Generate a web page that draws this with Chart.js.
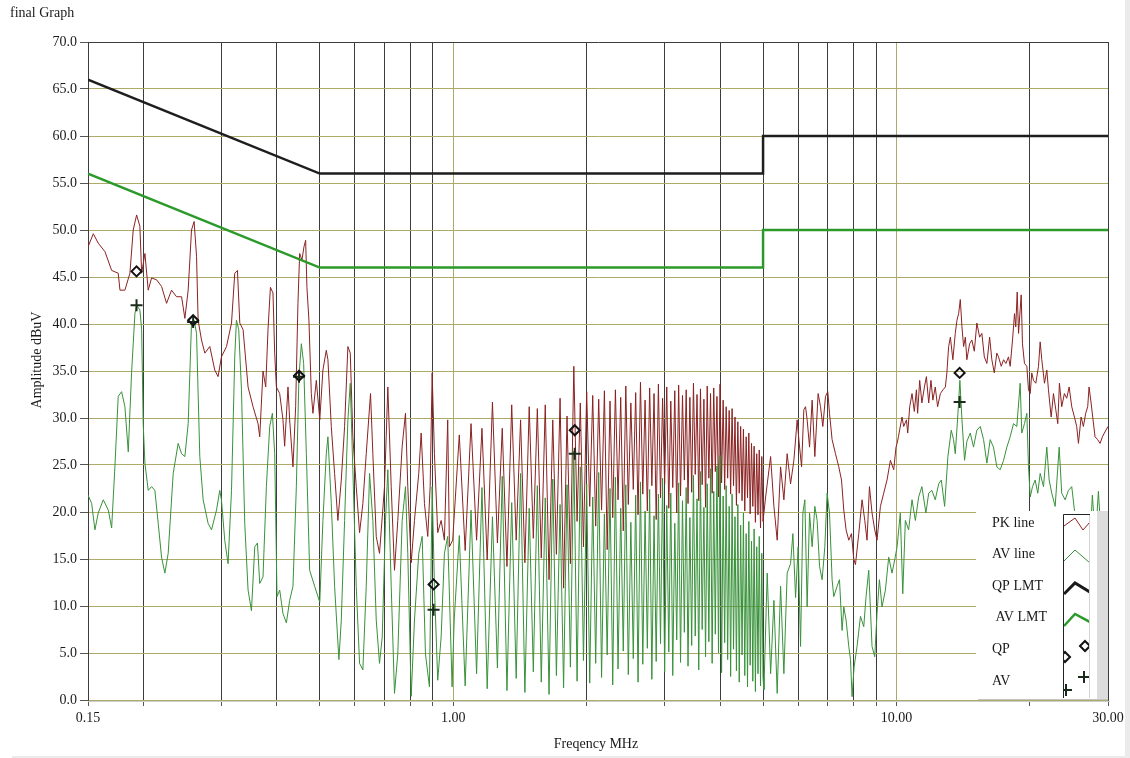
<!DOCTYPE html>
<html>
<head>
<meta charset="utf-8">
<title>final Graph</title>
<script src="https://cdn.jsdelivr.net/npm/chart.js@4.4.1/dist/chart.umd.min.js"></script>
<style>
  html, body { margin: 0; padding: 0; background: #fff; }
  canvas { display: block; }
</style>
</head>
<body>
<canvas id="emiChart" width="1130" height="758"></canvas>
<script>
// ---- data (MHz / dBuV) ----

// 0.15 - 1 MHz
const pkFreqLow = [
  0.150,0.1542,0.1582,0.1638,0.1696,0.1755,0.1771,0.1817,0.1865,0.1897,
  0.1931,0.1964,0.1982,0.2016,0.2051,0.2087,0.2142,0.2198,0.2256,0.2315,
  0.2376,0.2439,0.2481,0.2524,0.2568,0.2603,0.2636,0.2658,0.2705,0.2752,
  0.2824,0.2898,0.2948,0.3000,0.3080,0.3161,0.3215,0.3260,0.3300,0.3357,
  0.3445,0.3535,0.3628,0.3660,0.3723,0.3776,0.3821,0.3869,0.3921,0.3956,
  0.3991,0.4060,0.4130,0.4166,0.4239,0.4276,0.4350,0.4411,0.4464,0.4504,
  0.4558,0.4605,0.4646,0.4677,0.4726,0.4785,0.4825,0.4911,0.5000,0.5082,
  0.5172,0.5216,0.5308,0.5400,0.5493,0.5591,0.5688,0.5786,0.5858,0.5937,
  0.6043,0.6148,0.6254,0.6365,0.6508,0.6587,0.6704,0.6819,0.6998,0.7060,
  0.7120,0.7246,0.7371,0.7498,0.7671,0.7804,0.7898,0.8038,0.8177,0.8361,
  0.8466,0.8612,0.8761,0.8871,0.8963,0.9070,0.9227,0.9391,0.9553,0.9718,
  0.9804,0.9973
];
const pkLow = [
  48.2,49.6,48.6,47.7,45.7,45.4,43.6,43.6,45.4,50.0,
  51.6,50.4,45.4,47.5,43.6,44.9,44.7,44.0,42.2,43.6,
  42.9,42.9,40.6,43.6,50.0,50.9,47.2,40.4,38.3,36.9,
  37.6,35.1,34.4,36.5,37.6,40.1,45.4,45.7,40.1,39.4,
  33.3,31.2,29.4,28.0,35.0,33.3,39.4,43.9,43.3,36.9,
  33.3,32.6,29.8,27.0,33.3,29.8,24.8,31.2,42.2,47.5,
  46.8,48.2,48.9,43.9,40.4,32.6,30.5,34.0,29.8,35.1,
  37.2,36.2,29.1,24.1,19.1,23.4,29.1,37.6,36.9,28.0,
  22.7,17.8,20.9,26.2,32.6,26.2,17.4,15.6,22.7,28.0,
  33.3,22.7,13.8,19.1,27.0,30.5,22.7,14.6,19.1,24.1,
  28.4,20.9,17.4,22.7,34.8,26.2,17.8,19.1,17.0,29.8,
  16.3,17.0
];
const avFreqLow = [
  0.150,0.1529,0.1555,0.1582,0.1624,0.1667,0.1696,0.1725,0.1755,0.1786,
  0.1817,0.1849,0.1881,0.1914,0.1931,0.1964,0.1982,0.1998,0.2016,0.2051,
  0.2087,0.2123,0.2160,0.2198,0.2236,0.2275,0.2335,0.2396,0.2439,0.2481,
  0.2524,0.2568,0.2603,0.2636,0.2681,0.2728,0.2799,0.2849,0.2924,0.2974,
  0.3000,0.3052,0.3105,0.3161,0.3215,0.3243,0.3282,0.3329,0.3386,0.3445,
  0.3506,0.3567,0.3617,0.3660,0.3723,0.3789,0.3855,0.3909,0.3956,0.4004,
  0.4060,0.4130,0.4204,0.4276,0.4350,0.4427,0.4487,0.4544,0.4598,0.4663,
  0.4744,0.4868,0.5000,0.5082,0.5172,0.5216,0.5308,0.5400,0.5522,0.5591,
  0.5688,0.5786,0.5858,0.5937,0.6043,0.6148,0.6254,0.6365,0.6475,0.6587,
  0.6704,0.6819,0.6916,0.7035,0.7120,0.7246,0.7371,0.7498,0.7671,0.7804,
  0.7898,0.8038,0.8177,0.8361,0.8510,0.8657,0.8838,0.8963,0.9070,0.9227,
  0.9391,0.9553,0.9718,0.9942,1.005
];
const avLow = [
  21.8,20.9,18.1,19.9,21.3,20.2,18.3,24.8,32.3,32.8,
  31.2,26.4,34.8,41.1,42.0,41.5,39.4,29.4,25.2,22.3,
  22.7,22.3,18.8,15.2,13.5,15.6,24.1,27.3,26.2,25.9,
  29.4,40.1,40.4,39.0,25.9,21.3,18.8,18.1,20.2,22.3,
  21.3,17.0,14.5,22.3,36.5,40.4,39.4,33.0,18.8,11.7,
  9.5,16.3,16.7,12.4,13.1,22.7,29.1,30.5,26.2,11.0,
  11.7,9.2,8.2,10.6,12.1,22.7,34.4,37.9,35.8,26.2,
  13.8,12.1,10.4,19.1,26.2,28.0,20.9,12.1,4.3,8.5,
  19.1,29.8,33.7,24.5,12.1,3.9,3.2,12.1,24.1,19.1,
  8.5,3.9,6.7,19.1,24.5,12.1,0.7,4.9,19.1,22.7,
  15.6,0.4,8.5,15.6,17.4,4.9,1.4,22.7,12.1,2.1,
  6.7,15.6,17.4,1.4,8.5
];

// 1 - 5 MHz: peak / dip of every switching harmonic
const harmFreq = [
  1.032,1.064,1.097,1.129,1.161,1.193,1.226,1.258,1.290,1.322,
  1.355,1.387,1.419,1.451,1.484,1.516,1.548,1.580,1.613,1.645,
  1.677,1.709,1.742,1.774,1.806,1.838,1.871,1.903,1.935,1.967,
  2.000,2.032,2.064,2.096,2.129,2.161,2.193,2.225,2.258,2.290,
  2.322,2.354,2.387,2.419,2.451,2.483,2.516,2.548,2.580,2.612,
  2.645,2.677,2.709,2.741,2.774,2.806,2.838,2.870,2.903,2.935,
  2.967,2.999,3.032,3.064,3.096,3.128,3.161,3.193,3.225,3.257,
  3.290,3.322,3.354,3.386,3.419,3.451,3.483,3.515,3.548,3.580,
  3.612,3.644,3.677,3.709,3.741,3.773,3.806,3.838,3.870,3.902,
  3.935,3.967,3.999,4.031,4.064,4.096,4.128,4.160,4.193,4.225,
  4.257,4.289,4.322,4.354,4.386,4.418,4.451,4.483,4.515,4.547,
  4.580,4.612,4.644,4.676,4.709,4.741,4.773,4.805,4.838,4.870,
  4.902,4.934,4.967,4.999
];
const pkHarm = [
  28.2,15.9,29.4,17.0,28.9,14.9,31.7,16.7,28.9,14.2,
  31.4,17.0,29.8,14.6,31.2,17.2,31.0,15.1,31.4,12.8,
  29.8,15.5,32.1,11.9,30.2,14.5,35.5,19.0,31.6,16.3,
  32.8,20.6,32.4,18.5,32.0,20.2,32.9,16.0,31.8,19.4,
  33.0,21.3,32.2,18.0,33.4,20.8,31.6,22.4,32.7,19.7,
  33.8,21.9,31.9,20.1,33.2,22.8,32.6,19.2,33.6,21.5,
  32.1,23.0,33.3,20.4,31.8,22.6,32.9,19.9,33.5,21.7,
  32.4,23.4,33.0,20.9,32.2,22.1,33.7,24.0,32.5,21.2,
  33.1,22.9,32.0,20.5,33.4,23.6,32.6,22.0,33.2,24.3,
  32.3,21.6,33.6,23.1,31.9,22.4,31.2,23.6,30.8,21.9,
  31.0,22.8,30.1,20.7,29.6,22.0,29.1,21.2,28.8,20.1,
  28.0,21.5,28.4,19.8,27.3,20.6,27.0,18.9,26.2,19.7,
  26.6,18.3,25.9,19.0
];
const avHarm = [
  17.5,1.5,20.2,2.8,22.6,1.2,19.5,3.4,23.8,1.0,
  21.0,2.3,24.1,0.8,20.4,3.0,22.8,1.9,21.5,0.6,
  23.5,2.6,20.8,1.3,22.9,3.5,26.5,2.0,24.8,4.2,
  23.0,1.8,21.6,3.9,24.2,2.4,19.8,4.8,22.5,1.6,
  23.7,3.3,20.4,5.2,22.9,2.7,18.9,4.4,21.8,1.9,
  23.2,3.8,20.1,5.5,22.4,2.2,19.6,4.1,21.9,6.0,
  23.6,3.0,20.7,5.1,22.0,2.6,18.8,6.4,23.1,4.0,
  21.2,7.2,22.6,3.6,19.4,5.8,23.9,6.8,21.4,3.2,
  24.3,7.5,20.5,4.6,23.0,6.2,24.6,3.9,22.2,7.0,
  24.9,5.0,26.0,2.9,21.7,6.1,22.8,4.3,20.6,2.5,
  21.9,5.4,19.5,3.1,20.8,1.9,18.6,4.8,19.9,2.6,
  17.7,1.4,19.0,3.7,16.9,2.0,18.2,0.9,16.3,2.8,
  17.4,1.5,15.6,2.4
];

// 5 - 30 MHz
const pkFreqHigh = [
  5.067,5.200,5.290,5.381,5.477,5.571,5.667,5.768,5.868,5.969,
  6.022,6.107,6.180,6.235,6.287,6.366,6.452,6.543,6.656,6.739,
  6.820,6.916,6.999,7.061,7.157,7.284,7.410,7.515,7.605,7.696,
  7.804,7.914,8.009,8.080,8.220,8.362,8.480,8.581,8.689,8.807,
  8.931,9.038,9.199,9.358,9.519,9.689,9.856,9.974,10.03,10.10,
  10.29,10.38,10.53,10.60,10.71,10.84,10.97,11.09,11.16,11.28,
  11.41,11.56,11.68,11.82,11.96,12.08,12.23,12.38,12.56,12.73,
  12.89,12.99,13.11,13.23,13.40,13.57,13.69,13.81,13.93,14.05,
  14.17,14.30,14.41,14.62,14.79,14.98,15.18,15.40,15.58,15.78,
  15.99,16.22,16.41,16.62,16.84,16.99,17.23,17.44,17.65,17.89,
  18.05,18.27,18.46,18.58,18.72,18.85,19.01,19.11,19.24,19.44,
  19.68,19.85,20.03,20.19,20.37,20.62,20.91,21.09,21.27,21.57,
  21.83,22.02,22.33,22.60,22.87,23.11,23.31,23.59,23.92,24.21,
  24.52,24.85,25.20,25.50,25.73,26.09,26.40,26.72,27.00,27.19,
  27.48,27.76,28.05,28.43,28.79,29.14,29.44,30.0
];
const pkHigh = [
  21.6,25.9,20.6,17.0,24.8,21.3,26.2,23.0,25.5,29.8,
  27.7,24.8,30.9,31.2,29.8,26.9,31.9,25.9,32.6,31.2,
  29.1,32.3,32.8,30.5,27.7,26.2,24.8,23.4,20.2,18.1,
  17.0,17.7,15.0,14.4,17.7,21.3,19.1,17.0,22.7,19.9,
  18.1,17.0,20.6,22.0,23.4,25.5,24.5,26.9,27.3,28.0,
  30.1,29.1,29.8,28.4,31.2,32.6,30.7,33.0,30.5,34.0,
  31.6,33.3,34.4,31.6,34.0,31.9,33.3,31.2,32.6,33.0,
  33.3,34.8,37.6,38.6,36.2,39.0,40.4,41.1,42.6,39.7,
  37.6,38.6,36.2,37.9,38.3,37.1,40.1,38.6,39.0,36.5,
  35.8,38.6,36.2,34.8,36.9,36.5,35.5,36.2,35.8,36.5,
  35.5,38.3,41.1,39.7,43.4,39.0,41.5,43.1,37.9,35.8,
  35.5,33.0,32.6,34.8,34.0,33.7,35.5,38.1,36.2,33.7,
  35.1,33.0,30.1,32.6,30.9,29.4,33.7,31.2,32.6,32.1,
  33.3,31.2,30.1,29.1,27.3,30.1,29.1,30.5,31.2,33.3,
  31.6,29.8,28.0,27.7,27.3,28.0,28.4,29.1
];
const avFreqHigh = [
  5.022,5.109,5.200,5.290,5.381,5.477,5.571,5.667,5.768,5.838,
  5.920,6.000,6.075,6.149,6.212,6.287,6.366,6.452,6.543,6.622,
  6.705,6.795,6.891,6.974,7.061,7.157,7.220,7.345,7.437,7.538,
  7.605,7.696,7.804,7.874,7.939,8.022,8.148,8.293,8.436,8.537,
  8.657,8.807,8.931,9.038,9.151,9.276,9.440,9.603,9.769,9.907,
  10.03,10.20,10.33,10.47,10.65,10.84,11.03,11.22,11.41,11.65,
  11.82,12.02,12.23,12.45,12.62,12.84,13.06,13.29,13.45,13.57,
  13.76,13.90,14.05,14.24,14.41,14.67,14.92,15.18,15.45,15.72,
  15.99,16.27,16.55,16.84,17.14,17.44,17.74,18.05,18.36,18.68,
  19.01,19.17,19.44,19.68,19.85,20.03,20.27,20.55,20.83,21.09,
  21.46,21.83,22.10,22.40,22.80,23.28,23.59,24.01,24.43,24.85,
  25.20,25.59,25.99,26.40,26.82,27.23,27.66,28.10,28.54,28.99,
  29.44,30.0
];
const avHigh = [
  1.1,13.5,2.8,10.6,0.7,12.1,2.8,13.5,14.5,17.7,
  10.9,16.3,5.7,19.9,21.3,9.9,19.9,16.3,20.6,19.1,
  14.2,12.8,16.3,22.0,19.9,12.8,11.0,12.1,12.8,7.4,
  9.9,8.5,5.7,4.3,0.35,3.5,5.7,8.9,7.8,11.0,
  13.8,5.7,4.6,9.2,12.8,9.9,11.7,15.2,13.5,14.9,
  16.3,19.9,11.3,19.1,18.1,21.3,19.1,21.6,22.7,19.9,
  22.0,22.3,21.3,23.0,23.4,20.6,25.9,28.7,27.7,26.2,
  30.5,34.0,29.8,25.5,27.5,28.4,26.9,28.7,29.1,27.7,
  25.2,27.7,26.9,24.8,24.5,25.5,26.9,28.0,29.4,29.1,
  33.7,28.4,29.4,30.5,24.8,21.6,22.7,23.4,22.0,24.1,
  22.7,26.9,23.4,22.0,20.6,26.9,22.0,21.3,22.3,22.7,
  20.2,17.5,19.8,16.2,18.9,15.4,21.8,17.0,22.2,16.8,
  19.5,18.0
];

// limits (class B conducted)
const limitFreq = [0.15, 0.5, 5, 5, 30];
const qpLimit = [66, 56, 56, 60, 60];
const avLimit = [56, 46, 46, 50, 50];

// final measurement points
const markFreq = [0.193, 0.259, 0.449, 0.903, 1.88, 13.88];
const qpMarks = [45.6, 40.4, 34.5, 12.3, 28.7, 34.8];
const avMarks = [42.0, 40.2, 34.4, 9.6, 26.2, 31.7];

// axis ticks
const xGridMHz = [0.15,0.2,0.3,0.4,0.5,0.6,0.7,0.8,0.9,1,2,3,4,5,6,7,8,9,10,20,30];
const xTickText = { 0.15: '0.15', 1: '1.00', 10: '10.00', 30: '30.00' };
const legendNames = ['PK line', 'AV line', 'QP LMT', ' AV LMT', 'QP', 'AV'];

// ---- colours ----
const OLIVE = '#aeab68';
const DARK_GRID = '#3c3c3c';
const PK_RED = '#8b2222';
const AV_GREEN = '#38923a';
const LMT_GREEN = '#2b9a2b';
const SERIF = '"Liberation Serif", "Times New Roman", serif';

const pts = (xs, ys) => xs.map((x, i) => ({ x: x, y: ys[i] }));

const pkData = [...pts(pkFreqLow, pkLow), ...pts(harmFreq, pkHarm), ...pts(pkFreqHigh, pkHigh)];
const avData = [...pts(avFreqLow, avLow), ...pts(harmFreq, avHarm), ...pts(avFreqHigh, avHigh)];

function diamond(c, x, y, r) {
  c.beginPath();
  c.moveTo(x, y - r); c.lineTo(x + r, y); c.lineTo(x, y + r); c.lineTo(x - r, y);
  c.closePath(); c.stroke();
}
function cross(c, x, y, r) {
  c.beginPath();
  c.moveTo(x - r, y); c.lineTo(x + r, y);
  c.moveTo(x, y - r); c.lineTo(x, y + r);
  c.stroke();
}
function poly(c, p) {
  c.beginPath();
  c.moveTo(p[0][0], p[0][1]);
  for (let i = 1; i < p.length; i++) c.lineTo(p[i][0], p[i][1]);
  c.stroke();
}

function drawLegend(c) {
  c.save();
  c.fillStyle = '#ffffff';
  c.fillRect(976, 511, 121, 189);
  c.fillStyle = '#dcdcdc';
  c.fillRect(1097, 511, 11, 189);
  c.strokeStyle = '#c4c4c4'; c.lineWidth = 1;
  c.beginPath(); c.moveTo(978, 699.5); c.lineTo(1108, 699.5); c.stroke();

  // icon column frame
  c.strokeStyle = '#d2d2d2';
  c.beginPath(); c.moveTo(1089.5, 515); c.lineTo(1089.5, 698); c.stroke();
  c.strokeStyle = '#222';
  c.beginPath(); c.moveTo(1063.5, 698); c.lineTo(1063.5, 514.5); c.lineTo(1090, 514.5); c.stroke();

  c.fillStyle = '#1a1a1a';
  c.font = '14px ' + SERIF;
  c.textAlign = 'left'; c.textBaseline = 'middle';
  legendNames.forEach((name, i) => c.fillText(name, 992, 523 + i * 31.6));

  c.beginPath(); c.rect(1064, 515, 25, 183); c.clip();
  c.strokeStyle = PK_RED; c.lineWidth = 1;
  poly(c, [[1064, 526], [1075, 518], [1083, 530], [1090, 522]]);
  c.strokeStyle = AV_GREEN;
  poly(c, [[1064, 561], [1075, 550], [1090, 563]]);
  c.strokeStyle = '#1a1a1a'; c.lineWidth = 3;
  poly(c, [[1064, 594], [1075, 583], [1090, 592]]);
  c.strokeStyle = LMT_GREEN; c.lineWidth = 2.5;
  poly(c, [[1064, 626], [1075, 614], [1090, 622]]);
  c.strokeStyle = '#111'; c.lineWidth = 2;
  diamond(c, 1085, 646, 5);
  diamond(c, 1065, 657, 5);
  c.strokeStyle = '#1b2b1b';
  cross(c, 1084, 677, 6);
  cross(c, 1066, 690, 6);
  c.restore();
}

const sheetPlugin = {
  id: 'sheet',
  beforeDraw(chart) {
    const c = chart.ctx;
    c.save();
    c.fillStyle = '#ffffff';
    c.fillRect(0, 0, chart.width, chart.height);
    c.restore();
  },
  afterDraw(chart) {
    const c = chart.ctx;
    const area = chart.chartArea;
    c.save();
    // base line under the plot
    c.strokeStyle = '#cdcdcd'; c.lineWidth = 1;
    c.beginPath(); c.moveTo(area.left, area.bottom + 1.5); c.lineTo(area.right + 2, area.bottom + 1.5); c.stroke();

    c.fillStyle = '#1a1a1a';
    c.font = '14px ' + SERIF;
    c.textAlign = 'left'; c.textBaseline = 'alphabetic';
    c.fillText('final Graph', 10, 17);
    c.textAlign = 'center'; c.textBaseline = 'middle';
    c.fillText('Freqency MHz', 596, 744);
    c.translate(37, 360);
    c.rotate(-Math.PI / 2);
    c.fillText('Amplitude dBuV', 0, 0);
    c.restore();

    drawLegend(c);

    // window edges
    c.save();
    c.fillStyle = '#ebebeb';
    c.fillRect(1125, 0, 5, 758);
    c.fillRect(12, 756, 1113, 2);
    c.restore();
  }
};

Chart.defaults.font.family = SERIF;

const ctx = document.getElementById('emiChart').getContext('2d');
new Chart(ctx, {
  type: 'line',
  data: {
    datasets: [
      {
        label: 'QP', data: pts(markFreq, qpMarks), showLine: false,
        pointStyle: 'rectRot', pointRadius: 5, borderWidth: 2,
        borderColor: '#111', backgroundColor: 'rgba(255,255,255,0)', order: 0
      },
      {
        label: 'AV', data: pts(markFreq, avMarks), showLine: false,
        pointStyle: 'cross', pointRadius: 6, borderWidth: 2,
        borderColor: '#1b2b1b', order: 0
      },
      { label: 'QP LMT', data: pts(limitFreq, qpLimit), borderColor: '#1e1e1e', borderWidth: 2.5, pointRadius: 0, order: 1 },
      { label: 'AV LMT', data: pts(limitFreq, avLimit), borderColor: LMT_GREEN, borderWidth: 2.5, pointRadius: 0, order: 1 },
      { label: 'AV line', data: avData, borderColor: AV_GREEN, borderWidth: 1, pointRadius: 0, order: 2 },
      { label: 'PK line', data: pkData, borderColor: PK_RED, borderWidth: 1, pointRadius: 0, order: 3 }
    ]
  },
  options: {
    responsive: false,
    animation: false,
    normalized: true,
    layout: { padding: { top: 42, right: 22, left: 0, bottom: 0 } },
    plugins: { legend: { display: false }, tooltip: { enabled: false } },
    scales: {
      x: {
        type: 'logarithmic',
        min: 0.15,
        max: 30,
        afterBuildTicks(scale) { scale.ticks = xGridMHz.map(v => ({ value: v })); },
        afterFit(scale) { scale.height = 58; },
        ticks: {
          autoSkip: false, maxRotation: 0, minRotation: 0, padding: 4,
          color: '#1a1a1a', font: { size: 14 },
          callback: v => xTickText[v] || ''
        },
        grid: {
          color: c => (c.tick && (c.tick.value === 1 || c.tick.value === 10)) ? OLIVE : DARK_GRID,
          tickColor: '#555', tickLength: 6
        },
        border: { display: false }
      },
      y: {
        min: 0,
        max: 70,
        afterFit(scale) { scale.width = 88; },
        ticks: {
          stepSize: 5, padding: 3, color: '#1a1a1a', font: { size: 14 },
          callback: v => v.toFixed(1)
        },
        grid: {
          color: c => (c.tick && c.tick.value === 70) ? DARK_GRID : OLIVE,
          tickColor: '#555', tickLength: 8
        },
        border: { display: true, color: DARK_GRID }
      }
    }
  },
  plugins: [sheetPlugin]
});
</script>
</body>
</html>
